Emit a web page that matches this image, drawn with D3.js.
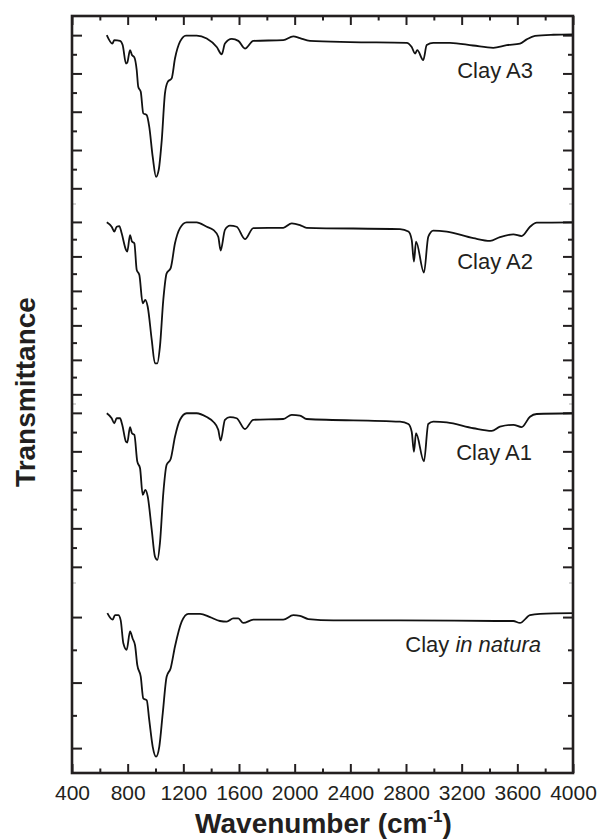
<!DOCTYPE html>
<html>
<head>
<meta charset="utf-8">
<script src="https://cdn.jsdelivr.net/npm/d3@7"></script>
<style>
  html, body { margin: 0; padding: 0; background: #fff; }
  svg { display: block; }
  text { font-family: "Liberation Sans", Arial, Helvetica, sans-serif; fill: #231f20; }
</style>
</head>
<body>
<svg id="chart" width="601" height="839"></svg>
<script>
// ---------- data: [wavenumber (cm-1), transmittance (a.u.)] ----------
const clayA3 = [
  [650,100],[690,97.8],[704,98.7],[745,98.5],[764,97.4],[788,92.6],[797,92.8],[817,96.1],[831,94.8],[848,94.2],
  [865,90.9],[876,86.5],[894,85.2],[912,79.6],[937,79.1],[955,76.1],[980,68.2],[1004,63.0],[1023,64.8],
  [1045,72.6],[1068,84.8],[1088,87.8],[1116,88.7],[1140,93.9],[1176,98.3],[1219,99.9],[1296,99.9],
  [1368,99.1],[1440,96.9],[1476,95.0],[1499,97.8],[1548,99.0],[1595,98.5],[1643,96.5],[1703,98.5],
  [1918,98.7],[1990,99.7],[2038,99.2],[2110,98.5],[2398,98.2],[2805,98.0],[2841,96.9],[2865,95.2],
  [2881,96.1],[2924,93.5],[2949,97.4],[2996,98.0],[3116,98.0],[3282,97.3],[3427,96.7],[3524,97.4],
  [3619,97.8],[3667,98.9],[3727,99.8],[3859,100.1],[4000,100.2]
];
const clayA2 = [
  [650,99.9],[685,98.6],[704,97.2],[721,98.6],[740,98.8],[757,96.7],[788,91.9],[797,91.4],[817,96.2],
  [831,94.3],[848,93.8],[865,86.1],[884,84.6],[908,76.4],[927,77.4],[944,75.4],[973,65.8],[996,59.0],
  [1013,59.0],[1032,63.9],[1056,77.4],[1080,85.1],[1109,86.6],[1140,93.8],[1176,98.2],[1224,99.9],
  [1296,99.9],[1368,98.6],[1415,97.7],[1451,95.7],[1468,91.7],[1499,97.7],[1535,98.9],[1583,98.6],
  [1643,95.0],[1703,98.2],[1918,98.3],[1979,99.6],[2038,99.1],[2086,98.3],[2757,97.9],[2817,97.2],
  [2841,94.8],[2857,88.5],[2872,94.3],[2929,85.3],[2960,95.7],[2996,97.5],[3093,97.2],[3284,95.3],
  [3404,94.5],[3475,95.6],[3571,96.4],[3631,95.9],[3691,98.6],[3739,99.8],[4000,99.9]
];
const clayA1 = [
  [650,99.9],[685,98.6],[704,97.3],[721,98.6],[745,98.6],[761,96.9],[788,92.5],[797,92.3],[817,96.3],
  [831,94.7],[848,94.3],[869,87.4],[889,85.6],[908,78.7],[927,80.0],[944,78.3],[973,69.6],[996,62.7],
  [1013,61.8],[1032,66.2],[1056,79.1],[1080,86.5],[1109,88.0],[1140,93.8],[1176,98.2],[1224,99.9],
  [1296,99.9],[1368,98.9],[1415,97.7],[1451,95.6],[1468,92.8],[1499,98.2],[1535,98.9],[1583,98.6],
  [1643,95.8],[1703,98.2],[1918,98.4],[1979,99.5],[2038,99.3],[2086,98.4],[2757,97.7],[2817,97.1],
  [2841,95.1],[2857,89.9],[2872,94.7],[2929,87.4],[2960,97.1],[2996,97.7],[3093,97.5],[3284,96.0],
  [3416,95.3],[3475,96.4],[3571,96.9],[3631,96.3],[3691,99.0],[3739,99.7],[4000,99.9]
];
const clayNatura = [
  [654,100.6],[692,99.6],[709,100.3],[733,100.3],[750,99.5],[769,96.0],[793,95.0],[817,97.8],[836,96.7],
  [853,95.7],[869,92.7],[894,90.9],[912,87.6],[937,87.3],[955,84.3],[980,80.2],[1004,78.7],[1027,80.2],
  [1052,85.3],[1080,90.9],[1109,92.2],[1140,95.5],[1188,99.3],[1236,100.5],[1320,100.5],[1392,100.0],
  [1463,99.4],[1512,99.3],[1559,99.8],[1595,99.8],[1631,99.1],[1703,99.6],[1918,99.6],[1990,100.3],
  [2038,100.2],[2098,99.7],[2278,99.5],[2757,99.5],[3475,99.4],[3571,99.4],[3619,99.1],[3691,100.3],
  [3763,100.5],[4000,100.6]
];
const seriesLabels = ["Clay A3", "Clay A2", "Clay A1", "Clay in natura"];
const xMajorTicks = [400, 800, 1200, 1600, 2000, 2400, 2800, 3200, 3600, 4000];
const xMinorTicks = [600, 1000, 1400, 1800, 2200, 2600, 3000, 3400, 3800];
const xTitle = "Wavenumber (cm";
const yTitle = "Transmittance";

// ---------- layout ----------
const L = 72, R = 573, T = 16, B = 773;
const ink = "#231f20";
const panels = [
  { data: clayA3,     domain: [55.9, 105.0], y0: 16,  y1: 204, lab: [533, 78] },
  { data: clayA2,     domain: [47.2, 105.2], y0: 204, y1: 404, lab: [533, 269] },
  { data: clayA1,     domain: [55.8, 102.3], y0: 404, y1: 583, lab: [532, 460] },
  { data: clayNatura, domain: [76.2, 105.2], y0: 583, y1: 773, lab: [541, 652] }
];

const svg = d3.select("#chart");
const x = d3.scaleLinear().domain([400, 4000]).range([L, R]);

function strip(g) {
  g.select(".domain").remove();
  g.selectAll(".tick line").attr("stroke", ink).attr("stroke-width", 2);
}

// Bottom axis (major with labels, minor without)
svg.append("g").attr("transform", `translate(0,${B})`)
  .call(d3.axisBottom(x).tickValues(xMajorTicks).tickSize(-9).tickPadding(12).tickFormat(d3.format("d")))
  .call(strip)
  .call(g => g.selectAll("text").attr("font-size", 21).attr("fill", ink)
      .style("font-family", '"Liberation Sans", Arial, sans-serif'));
svg.append("g").attr("transform", `translate(0,${B})`)
  .call(d3.axisBottom(x).tickValues(xMinorTicks).tickSize(-4.5).tickFormat(""))
  .call(strip);
// Top axis
svg.append("g").attr("transform", `translate(0,${T})`)
  .call(d3.axisTop(x).tickValues(xMajorTicks).tickSize(-9).tickFormat(""))
  .call(strip);
svg.append("g").attr("transform", `translate(0,${T})`)
  .call(d3.axisTop(x).tickValues(xMinorTicks).tickSize(-4.5).tickFormat(""))
  .call(strip);

const line = d3.line().curve(d3.curveMonotoneX);

panels.forEach((p, i) => {
  const y = d3.scaleLinear().domain(p.domain).range([p.y1, p.y0]);
  const all = d3.range(Math.ceil(p.domain[0] / 5) * 5, p.domain[1] + 0.01, 5)
    .filter(v => y(v) > p.y0 + 3 && y(v) < p.y1 - 3);
  const major = all.filter(v => v % 10 === 0);
  const minor = all.filter(v => v % 10 !== 0);

  [[d3.axisLeft, L], [d3.axisRight, R]].forEach(([ax, pos]) => {
    svg.append("g").attr("transform", `translate(${pos},0)`)
      .call(ax(y).tickValues(major).tickSize(-10).tickFormat("")).call(strip);
    svg.append("g").attr("transform", `translate(${pos},0)`)
      .call(ax(y).tickValues(minor).tickSize(-5).tickFormat("")).call(strip);
  });

  // faint panel separators
  if (i > 0) {
    svg.append("line").attr("x1", L).attr("x2", L + 4).attr("y1", p.y0).attr("y2", p.y0)
      .attr("stroke", "#c8c8c8").attr("stroke-width", 1.5);
    svg.append("line").attr("x1", R - 4).attr("x2", R).attr("y1", p.y0).attr("y2", p.y0)
      .attr("stroke", "#c8c8c8").attr("stroke-width", 1.5);
  }

  svg.append("path")
    .attr("d", line(p.data.map(d => [x(d[0]), y(d[1])])))
    .attr("fill", "none").attr("stroke", "#111").attr("stroke-width", 1.8)
    .attr("stroke-linejoin", "round");

  const t = svg.append("text").attr("x", p.lab[0]).attr("y", p.lab[1])
    .attr("text-anchor", "end").attr("font-size", 22);
  if (seriesLabels[i] === "Clay in natura") {
    t.append("tspan").text("Clay ");
    t.append("tspan").attr("font-style", "italic").text("in natura");
  } else {
    t.text(seriesLabels[i]);
  }
});

// Frame
svg.append("rect").attr("x", L).attr("y", T).attr("width", R - L).attr("height", B - T)
  .attr("fill", "none").attr("stroke", ink).attr("stroke-width", 2.6);

// Axis titles
const xt = svg.append("text").attr("x", (L + R) / 2 + 1).attr("y", 833)
  .attr("text-anchor", "middle").attr("font-size", 28).attr("font-weight", "bold");
xt.append("tspan").text(xTitle);
xt.append("tspan").attr("font-size", 17).attr("dy", -11).text("-1");
xt.append("tspan").attr("dy", 11).text(")");

svg.append("text").attr("transform", "translate(35,392) rotate(-90)")
  .attr("text-anchor", "middle").attr("font-size", 28).attr("font-weight", "bold")
  .text(yTitle);
</script>
</body>
</html>
